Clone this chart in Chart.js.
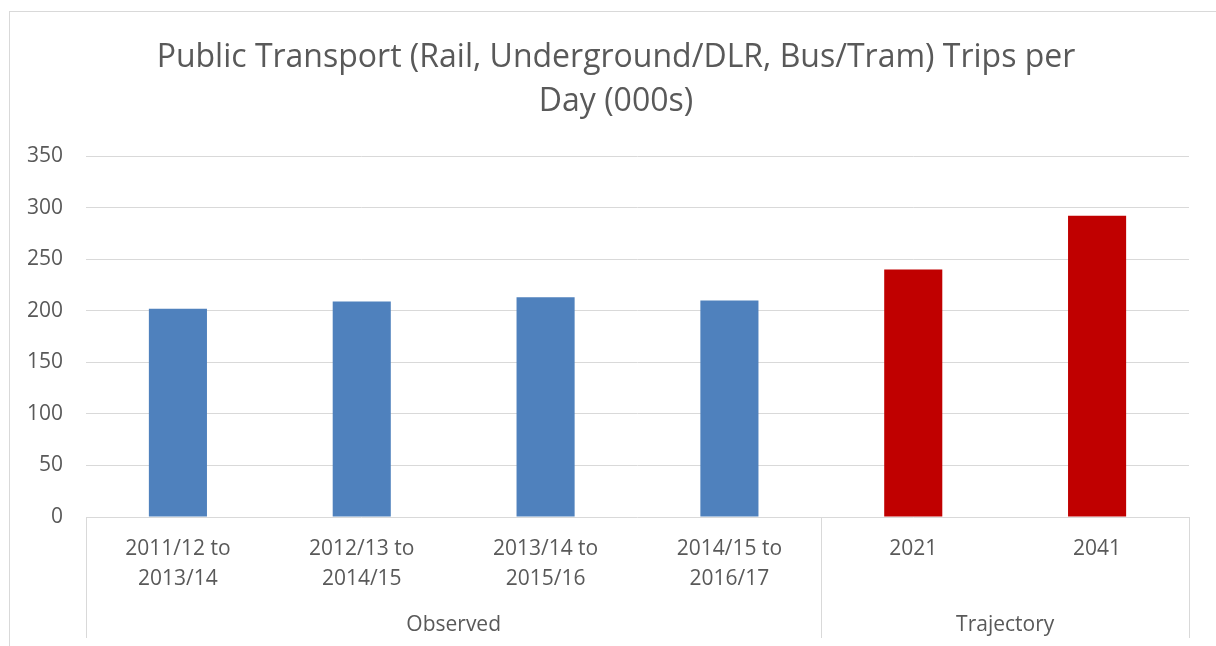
<!DOCTYPE html>
<html>
<head>
<meta charset="utf-8">
<script src="https://cdn.jsdelivr.net/npm/chart.js@4.4.1/dist/chart.umd.min.js"></script>
<style>
    html, body { margin: 0; padding: 0; background: #ffffff; overflow: hidden; }
    #frame {
        position: absolute; left: 9px; top: 11px; width: 1220px; height: 650px;
        border: 1px solid #d9d9d9; box-sizing: border-box;
    }
    #wrap { position: absolute; left: 0; top: 0; width: 1216px; height: 646px; }
</style>
</head>
<body>
<div id="frame"></div>
<div id="wrap"><canvas id="chart"></canvas></div>
<script>
// Data
const categories = [
    ['2011/12 to', '2013/14'],
    ['2012/13 to', '2014/15'],
    ['2013/14 to', '2015/16'],
    ['2014/15 to', '2016/17'],
    '2021',
    '2041'
];
const tripsPerDay = [202, 209, 213, 210, 240, 292];
const groupLabels = ['Observed', 'Trajectory'];
const groupSizes = [4, 2];
const yMax = 350;
const yStep = 50;
const titleLines = ['Public Transport (Rail, Underground/DLR, Bus/Tram) Trips per', 'Day (000s)'];

const colors = {
    observed: '#4f81bd',
    trajectory: '#c00000',
    gridLine: '#d9d9d9',
    text: '#595959'
};
const fontFamily = "'Open Sans', 'Noto Sans', sans-serif";

// bar colour follows its group
const barColors = [];
groupSizes.forEach((n, g) => {
    for (let i = 0; i < n; i++) barColors.push(g === 0 ? colors.observed : colors.trajectory);
});

// Title + grouped category axis (separators and group names)
const extras = {
    id: 'extras',
    afterDraw(chart) {
        const { ctx, chartArea } = chart;
        const x = chart.scales.x;
        ctx.save();

        ctx.fillStyle = colors.text;
        ctx.font = `32px ${fontFamily}`;
        ctx.textAlign = 'center';
        ctx.textBaseline = 'middle';
        titleLines.forEach((t, i) => ctx.fillText(t, 616, 58 + i * 44));

        const half = (x.getPixelForValue(1) - x.getPixelForValue(0)) / 2;
        const bottom = 638;
        ctx.strokeStyle = colors.gridLine;
        ctx.lineWidth = 1;
        let start = 0;
        const edges = [x.getPixelForValue(0) - half];
        ctx.font = `21px ${fontFamily}`;
        groupSizes.forEach((n, g) => {
            const end = start + n - 1;
            const left = x.getPixelForValue(start) - half;
            const right = x.getPixelForValue(end) + half;
            edges.push(right);
            ctx.fillText(groupLabels[g], (left + right) / 2, 625);
            start += n;
        });
        edges.forEach(px => {
            const xx = Math.round(px) + 0.5;
            ctx.beginPath();
            ctx.moveTo(xx, chartArea.bottom);
            ctx.lineTo(xx, bottom);
            ctx.stroke();
        });
        ctx.restore();
    }
};

new Chart(document.getElementById('chart'), {
    type: 'bar',
    data: {
        labels: categories,
        datasets: [{
            label: 'Trips per day',
            data: tripsPerDay,
            backgroundColor: barColors,
            barPercentage: 0.316,
            categoryPercentage: 1
        }]
    },
    options: {
        responsive: true,
        maintainAspectRatio: false,
        animation: false,
        layout: { padding: { top: 156, right: 27, bottom: 0, left: 0 } },
        plugins: {
            legend: { display: false },
            title: { display: false },
            tooltip: { enabled: false }
        },
        scales: {
            x: {
                grid: { display: false, drawTicks: false },
                border: { display: false },
                ticks: {
                    color: colors.text,
                    font: { family: fontFamily, size: 21, lineHeight: 1.43 },
                    padding: 17,
                    maxRotation: 0,
                    autoSkip: false
                },
                afterFit: (s) => { s.height = 129; }
            },
            y: {
                min: 0,
                max: yMax,
                grid: { color: colors.gridLine, drawTicks: false },
                border: { display: false },
                ticks: {
                    stepSize: yStep,
                    color: colors.text,
                    font: { family: fontFamily, size: 21 },
                    padding: 23
                },
                afterFit: (s) => { s.width = 86; }
            }
        }
    },
    plugins: [extras]
});
</script>
</body>
</html>
